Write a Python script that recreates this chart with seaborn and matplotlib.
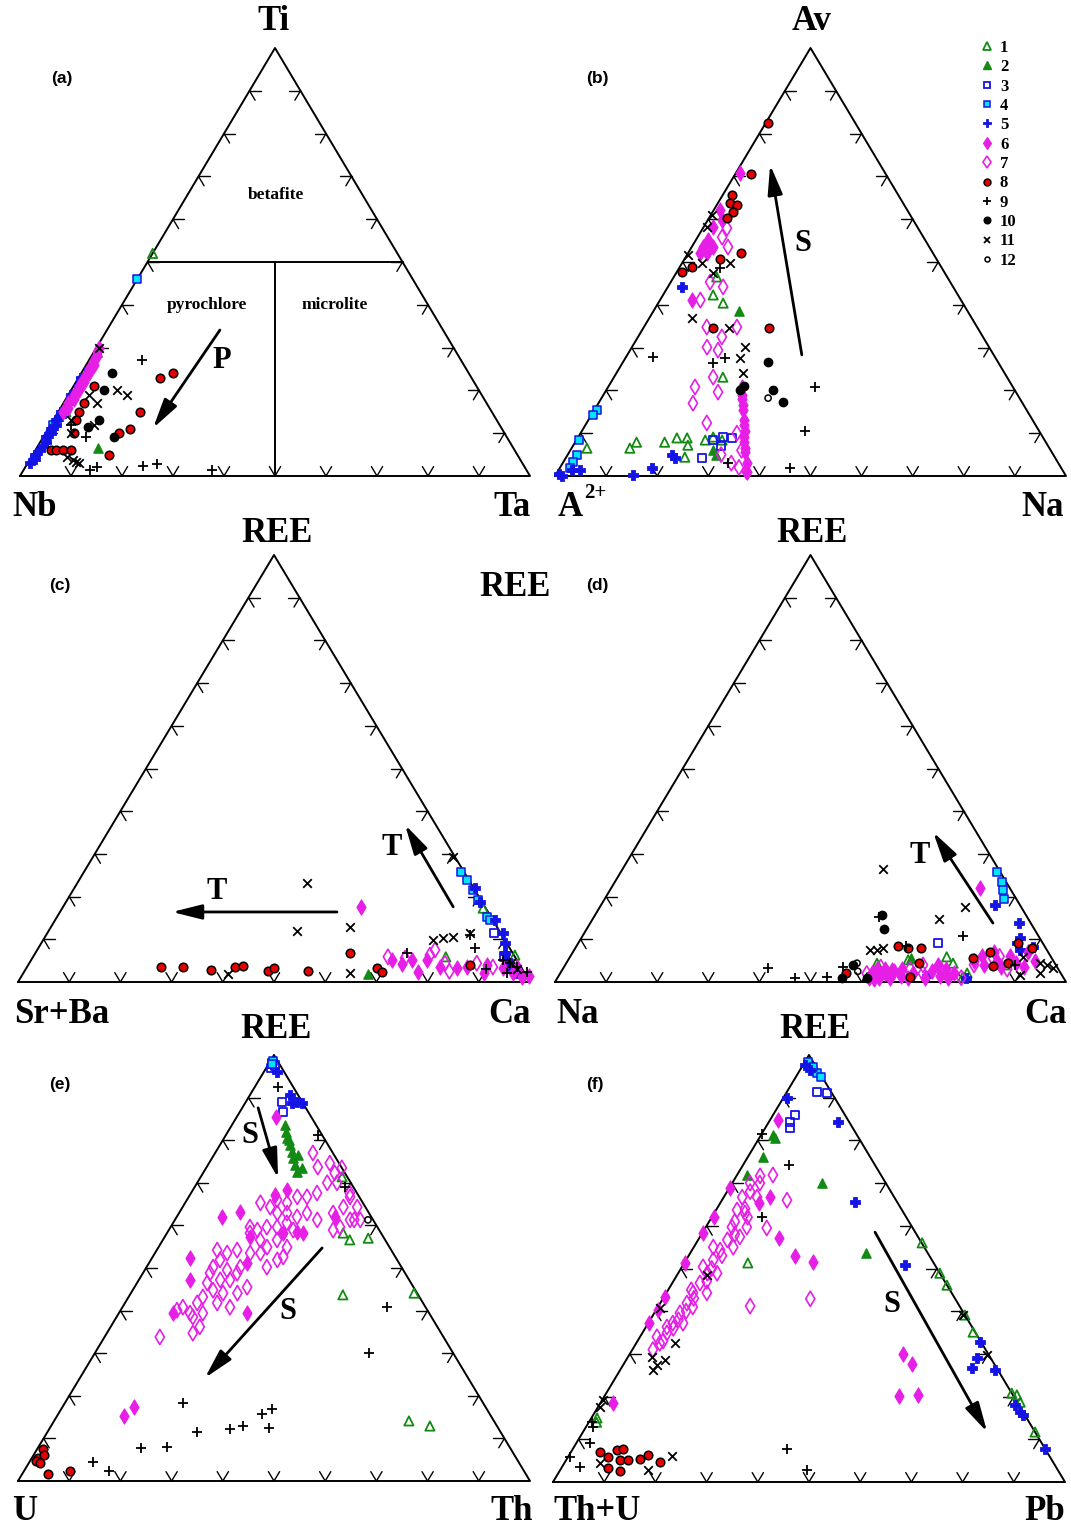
import numpy as np
import seaborn as sns
import matplotlib.pyplot as plt
from matplotlib.lines import Line2D

sns.set_style("white")
plt.rcParams['font.family'] = ['Liberation Serif', 'DejaVu Serif']
plt.rcParams['text.color'] = 'black'

# compositions: (top %, right %), left = 100 - top - right
a_data = {
    1: [(52, 0), (16, 1), (15, 1.5)],
    2: [(6.5, 12)],
    4: [(46, 0), (22, 1), (12, 0.5)],
    5: [(3, 0.5), (4, 1), (5, 0.5), (6, 1), (7, 1), (8, 1), (9, 0.5), (10, 1), (11, 0.5), (12, 1),
        (13, 0.5), (14, 1), (15, 0.5), (17, 1), (19, 0.5), (21, 1), (23, 0.5), (25, 1)],
    6: [(15, 1), (16, 1.5), (17, 1), (18, 1.5), (19, 1), (20, 1.5), (21, 1), (22, 1.5), (23, 1),
        (24, 1.5), (25, 1), (26, 1.5), (27, 1), (28, 1), (29, 0.5), (30, 0.5)],
    8: [(23, 16), (24, 18), (21, 4), (17, 4), (15, 16), (15, 4), (13, 4.5), (10, 5.5), (11, 16),
        (10, 14.5), (6, 3), (6, 4), (6, 5.5), (6, 7), (5, 15)],
    9: [(27, 10.5), (9, 8.5), (2.3, 23), (2.8, 25.5), (1.5, 13), (2, 14), (1.4, 37), (12, 4)],
    10: [(24, 6), (20, 6.5), (11.5, 7.5), (13, 9), (9, 14)],
    11: [(30, 0.5), (20, 9), (19, 11.5), (19, 4), (17, 6.5), (13, 3.5), (10, 5), (4.5, 7),
         (3.7, 8.5), (3.3, 9.3), (3, 10), (12, 8.5)],
}

b_data = {
    1: [(46.5, 8.4), (42.3, 9.8), (40.4, 12.7), (23.1, 21.3), (6.5, 3), (6.5, 11.4), (7.9, 12),
        (7.9, 17.5), (8.9, 19.4), (8.9, 21.4), (7.2, 22.4), (4.4, 23.2), (8.4, 25.2), (9.1, 26.4),
        (8.4, 28.5)],
    2: [(38.6, 16.7), (6, 28), (5, 29)],
    3: [(8.4, 26.7), (9.1, 28.3), (8.9, 30.2), (4.2, 26.7), (7, 29)],
    4: [(15.4, 0.5), (14.3, 0.3), (8.4, 0.5), (4.9, 1.8), (3.3, 1.9), (1.9, 2)],
    5: [(44.2, 2.8), (0, 1.4), (1.4, 2.6), (1.4, 4.2), (0.2, 15.2), (1.9, 18), (4.9, 20.5),
        (4.2, 21.4), (0.5, 0.5)],
    6: [(70.8, 0.8), (62.1, 1.2), (59.8, 2.8), (58.2, 1.8), (55.1, 2.4), (53.5, 2.3), (52.1, 2.3),
        (53.5, 4.1), (52.1, 3.7), (41.1, 6.3), (20.8, 26.2), (18, 27.5), (15.5, 29), (13, 30.5),
        (10.5, 32), (8, 33), (5.5, 34.5), (3, 36), (1, 37), (19, 27), (16.5, 28.5), (12, 31),
        (9, 32.5), (6.5, 34)],
    7: [(57.9, 4.7), (55.8, 4.8), (53.5, 7.1), (53.5, 3.6), (44.2, 10.8), (45.3, 7.7), (41.1, 7.9),
        (34.8, 12.3), (32.5, 16.4), (30.1, 14.7), (29.4, 17.2), (23.1, 19.4), (19.6, 22.1),
        (17, 18.5), (20.8, 17), (34.8, 18.2), (10, 30.6), (12.4, 23.5), (5, 30), (3, 33), (2, 35),
        (1, 37), (6, 33.5)],
    8: [(82.5, 0.4), (70.6, 3.1), (65.7, 1.8), (63.8, 2.3), (63.3, 4), (61.7, 4), (60.3, 3.6),
        (47.7, 1), (48.8, 2.4), (50.7, 7), (52.1, 10.3), (34.6, 13.6), (34.6, 24.6)],
    9: [(48.6, 8), (27.6, 19.5), (26.4, 17.7), (27.8, 5.3), (20.8, 40.5), (10.5, 43.7), (1.9, 45),
        (3, 32.4)],
    10: [(20, 26.2), (20, 32.7), (17.3, 36), (26.6, 28.4), (21, 26.5)],
    11: [(61, 0.2), (58.2, 0.6), (51.6, 0.2), (49.8, 3.9), (49.8, 9.3), (47.4, 7.2), (30.1, 22.2),
         (27.6, 22.4), (24.1, 24.8), (36.9, 8.4), (34.6, 16.8)],
    12: [(18.2, 32.6)],
}

c_data = {
    1: [(17.3, 82.2), (5.9, 80.6), (6.3, 93.9), (3, 96)],
    2: [(1.9, 67.4), (2, 97)],
    3: [(11.5, 87.2), (6, 92)],
    4: [(25.8, 73.6), (23.9, 75.7), (21.5, 78.1), (19.2, 80.2), (15.2, 84), (14.5, 85)],
    5: [(22, 78.3), (18.7, 80.9), (14.5, 86), (11.5, 89), (9.1, 90.6), (6.8, 91.7), (5.2, 92.9),
        (3, 95), (2, 96.5)],
    6: [(17.6, 58.2), (5.2, 70.4), (4.2, 72.9), (5.2, 74.4), (2.3, 77), (5.2, 77.3), (3.5, 80.7),
        (3.3, 84), (3.5, 86), (4, 89.6), (3.3, 93), (3.5, 95.7), (1.2, 97.8), (2.1, 95.6), (2, 90),
        (1.5, 99)],
    7: [(5.9, 69.3), (5.6, 72.8), (6.3, 77.3), (7.5, 77.7), (4.4, 81.2), (3.5, 91), (4.4, 87.4),
        (2.5, 83)],
    8: [(3.5, 26.2), (3.5, 30.5), (2.8, 36.3), (3.5, 40.7), (3.7, 42), (2.6, 47.5), (3.3, 48.3),
        (2.6, 55.3), (6.8, 61.4), (3.3, 68.5), (2.3, 70), (4, 86.3)],
    9: [(8, 85.3), (11, 82.8), (6.8, 72.6), (5.2, 92.1), (4.4, 93.9), (3.5, 95.7), (2.3, 98.2),
        (2.1, 94.4), (3, 90)],
    11: [(23.2, 44.8), (11.9, 48.6), (12.9, 58.4), (2.1, 63.8), (1.9, 40), (29.3, 70.3),
         (9.8, 76.2), (10.3, 77.9), (10.5, 79.7), (11.5, 82.6), (4.5, 94), (3, 96)],
}

d_data = {
    1: [(4.4, 60.8), (5.2, 66.5), (5.9, 73.7), (4.4, 75.7), (1.2, 79.2), (2.1, 79.6), (4, 86.1)],
    2: [(5.6, 66.9)],
    3: [(9.1, 70.4)],
    4: [(25.8, 73.6), (23.4, 75.8), (21.5, 76.9), (19.4, 78.2)],
    5: [(18, 77.1), (13.8, 83.9), (10.3, 85.9), (9.1, 85.9), (8.2, 89.4), (7.5, 87.3), (1, 80),
        (1.5, 72)],
    6: [(22, 72.2), (1, 61), (2, 61), (3, 61.5), (1, 63), (2, 63.5), (3, 63), (1, 65), (2.5, 65),
        (1.5, 67), (3, 66.5), (1, 68.5), (2, 69), (0.8, 62), (2.8, 64.5), (1, 72), (2.5, 72.5),
        (4, 73), (1.5, 74.5), (3, 75), (1, 76.5), (2, 77), (5, 79.5), (6, 80.5), (4, 82),
        (7, 82.5), (5, 84), (3.5, 85.5), (6, 86), (4.5, 88), (7, 89), (3.5, 90), (5, 91.5)],
    7: [(2, 60), (3.5, 62), (2, 64), (3, 68), (4, 70), (2, 71), (3, 74), (1, 79), (4, 80),
        (5.5, 83), (3, 87), (6, 84)],
    8: [(5.6, 79), (7, 81.6), (9.1, 86.1), (3.7, 83.9), (4.4, 86.4), (8, 89.3), (4.4, 69),
        (1.2, 68.9), (2.1, 55.8), (8.4, 62.9), (8, 67.6), (8, 65.1)],
    9: [(10.8, 74.4), (15.2, 55.8), (3.3, 40), (0.9, 46.5), (1.2, 52.6), (3.5, 54.6), (8.4, 64.5),
        (4, 88)],
    10: [(15.7, 56.1), (12.4, 58.2), (4, 56.3), (0.9, 55.7), (0.9, 60.6)],
    11: [(26.5, 51), (17.6, 71.4), (14.8, 67.7), (7.5, 57.9), (7.5, 59.3), (8, 60.2), (5.9, 88.6),
         (4.4, 92.7), (4, 94.3), (3.3, 95.8), (2.1, 93.9), (1.6, 90.2)],
    12: [(4.4, 56.9), (2.5, 58)],
}

e_data = {
    1: [(71.4, 27.6), (58.2, 34.4), (56.6, 36.5), (57, 39.9), (43.7, 41.6), (44.1, 55.3),
        (14.1, 69.3), (12.9, 74)],
    2: [(83.6, 10.3), (81.9, 11.4), (80.5, 12.3), (78.9, 13.7), (77.2, 14.9), (75.8, 15.8),
        (74.2, 17), (72.5, 18.3), (80, 13), (76.5, 16.5), (73.5, 18.8)],
    3: [(98, 0.6), (97, 1), (89, 7.1), (86.6, 8.5), (97.5, 1.5)],
    4: [(98.5, 0.5), (97.8, 0.8)],
    5: [(96, 2.6), (90.6, 7.8), (89, 10), (88.7, 11.1), (88.7, 9.2)],
    6: [(85.4, 7.7), (68.3, 18.4), (67.1, 16.7), (63.1, 11.8), (62, 8.8), (58.5, 25.2),
        (58.2, 26.6), (62, 30.9), (52.3, 7.5), (47.2, 10), (39.4, 25), (57.3, 16.6), (58.2, 22.7),
        (39.4, 10.6), (51.2, 19.1), (15.3, 13), (17.4, 14)],
    7: [(77, 19.1), (73.7, 21.7), (74.6, 23.6), (72.3, 25.7), (70, 27.3), (70, 25.4), (67.6, 24.6),
        (66.7, 23.1), (66.7, 21.2), (65.3, 19.9), (66, 17.6), (64.3, 17.1), (65.3, 14.7),
        (62.9, 19.2), (62.9, 21.1), (62, 23.5), (62.9, 25), (61.3, 27.8), (62.9, 30.1), (64.3, 31.4),
        (66.7, 31.5), (64.3, 34.1), (61.3, 36.2), (61.3, 34.2), (59.6, 33.1), (58.9, 32.1),
        (60.6, 22.2), (58.9, 24.3), (59.6, 20.8), (59.6, 18.8), (59.6, 15.5), (58.9, 17.3),
        (58.2, 16.2), (56.6, 19), (56.6, 22.3), (54.9, 25.1), (54.9, 21.2), (53.5, 20.6),
        (53.5, 18.6), (54.2, 15.7), (53.5, 14.1), (54.2, 11.8), (51.9, 13.5), (50.2, 13),
        (49.5, 16.1), (50.2, 18.3), (48.8, 18.4), (47.2, 17.8), (47.2, 15.9), (48.8, 13.1),
        (46.5, 13.7), (44.8, 15.7), (44.1, 18), (44.1, 20.8), (45.5, 22), (50.2, 23.5),
        (51.9, 24.7), (52.6, 25.5), (43.2, 14.5), (41.8, 14.1), (39.4, 16.4), (41.8, 18),
        (40.8, 21), (38.5, 14.9), (36.2, 17.4), (34.7, 16.8), (40.8, 11.8), (40.1, 11),
        (39.4, 13.9), (33.8, 10.8), (73.5, 26.5), (67.6, 31), (61.3, 35)],
    8: [(7.5, 1.2), (5.4, 1.2), (4.7, 1.2), (6.1, 2), (4.2, 2.2), (1.6, 5.1), (2.3, 9)],
    9: [(92.5, 4.6), (40.8, 51.7), (30, 53.6), (18.3, 23.1), (11.5, 29.2), (8, 25.1), (7.7, 20.2),
        (4.5, 12.4), (2.3, 16.7), (12.2, 35.3), (12.9, 37.5), (15.7, 39.8), (16.9, 41.2),
        (12.4, 42.8), (81.2, 18), (69, 29.4)],
    12: [(61.3, 37.7)],
}

f_data = {
    1: [(15, 1.1), (56, 44.1), (48.9, 51.1), (46.1, 53.9), (39.1, 60.9), (35.1, 64.5), (20.8, 79.2),
        (20.4, 80.4), (18.7, 81.9), (11.7, 88.3), (51.3, 12.4), (14, 1.5)],
    2: [(81.3, 2.3), (80.6, 3.1), (76.1, 3), (71.9, 1.9), (70, 17.5), (53.6, 34.3)],
    3: [(91.3, 5.9), (91.1, 8), (85.9, 4.3), (84.3, 4.1), (82.9, 4.9)],
    4: [(98.4, 0.6), (95.8, 3.7), (97.2, 2.2), (94.8, 4.9)],
    5: [(97.7, 0.4), (96.5, 2), (89.9, 0.8), (84.3, 13.5), (65.6, 26.2), (50.8, 43.4), (32.8, 67),
        (29, 68.3), (26.7, 68.5), (26.2, 73.2), (18, 81.2), (16.4, 83), (15.7, 84), (7.7, 92.3)],
    6: [(84.8, 1.5), (66.7, 9.1), (65.3, 7.6), (57.1, 15.6), (52.9, 20.8), (51.5, 25), (68.9, 0.1),
        (62.1, 0.3), (58.3, 0.1), (51.3, 0.1), (43.3, 0.3), (40.3, 0.4), (37.2, 0.2), (18.5, 2.5),
        (30, 53.4), (27.6, 56.3), (20.1, 57.5), (20.4, 61.1)],
    7: [(70, 3.5), (66.7, 3.6), (63.7, 4.1), (63, 6), (59.7, 5.1), (57.4, 7.8), (56.7, 5.7),
        (54.3, 5.5), (55, 7.7), (52, 5.3), (48.9, 5.7), (46.6, 5.4), (44.3, 5.2), (41.9, 5.2),
        (39.6, 5), (37.2, 4.8), (34.9, 4.8), (55, 3.8), (50.4, 4.1), (48.9, 7.6), (44.3, 7.9),
        (41, 6.8), (37.2, 6.8), (59.7, 8), (66.7, 6.5), (70, 5.4), (32.5, 4.6), (34, 3.3),
        (36.3, 4.1), (61, 5), (58, 6.5), (53, 6.5), (50, 6), (47, 6.5), (45, 4.5), (43, 6),
        (40, 6), (38, 5.5), (36, 5.5), (33, 5), (31, 4), (64, 5.5), (68, 4.5), (62, 7),
        (71.9, 7), (66, 12.7), (71.7, 4.6), (59.5, 12), (41.2, 17.9), (42.9, 28.8)],
    8: [(7, 5.7), (5.9, 7.8), (7.5, 8.8), (7.7, 9.8), (5.2, 10.5), (5.2, 12), (3.3, 9.1),
        (2.6, 11.8), (5.4, 14.3), (6.3, 15.4), (4.7, 18.6)],
    9: [(81.5, 0), (74.2, 9), (62.1, 9.8), (14.1, 0.6), (12.9, 1.4), (9.1, 2.7), (3.5, 3.6),
        (5.9, 0.4), (7.7, 41.9), (2.8, 48.2)],
    11: [(48.5, 5.8), (32.6, 7.5), (40.7, 0.6), (29.3, 4.7), (27.4, 6.6), (28.6, 7.6), (26.2, 6.4),
         (19.2, 0.2), (17.6, 0.4), (4.4, 7), (2.8, 17.2), (6.1, 20.2), (39.1, 60.5), (29.7, 70)],
}

GREEN, BLUE, CYAN, MAG, RED = '#138a13', '#1414e6', '#00e5ff', '#e61ee6', '#e60000'
# group: marker, face, edge, size, linewidth
styles = {
    1: ('^', 'none', GREEN, 44, 1.3),
    2: ('^', GREEN, GREEN, 44, 1.0),
    3: ('s', 'none', BLUE, 36, 1.3),
    4: ('s', CYAN, BLUE, 36, 1.1),
    5: ('P', BLUE, BLUE, 50, 0.6),
    6: ('d', MAG, MAG, 60, 0.8),
    7: ('d', 'none', MAG, 60, 1.2),
    8: ('o', RED, 'black', 38, 1.1),
    9: ('+', 'black', 'black', 50, 1.3),
    10: ('o', 'black', 'black', 36, 1.0),
    11: ('x', 'black', 'black', 38, 1.3),
    12: ('o', 'none', 'black', 20, 1.1),
}

W, H = 1071, 1529
# triangle corners in pixels: left, right, base y, apex y
panels = [
    ('a', a_data, 20, 530, 476, 48),
    ('b', b_data, 555, 1066, 476, 48),
    ('c', c_data, 18, 530, 982, 555),
    ('d', d_data, 555, 1066, 982, 555),
    ('e', e_data, 18, 530, 1481, 1055),
    ('f', f_data, 553, 1065, 1482, 1055),
]


def tern(pts):
    t = np.array([p[0] for p in pts]) / 100.0
    r = np.array([p[1] for p in pts]) / 100.0
    return r + t / 2, t


fig = plt.figure(figsize=(W / 100, H / 100), dpi=100)
axes = {}
m = 60
for name, data, L, R, B, T in panels:
    ax = fig.add_axes([(L - m) / W, (H - B - m) / H, (R - L + 2 * m) / W, (B - T + 2 * m) / H])
    ax.set_xlim(-m / (R - L), 1 + m / (R - L))
    ax.set_ylim(-m / (B - T), 1 + m / (B - T))
    ax.axis('off')
    ax.patch.set_alpha(0)
    axes[name] = ax

    ax.plot([0, 1, 0.5, 0], [0, 0, 1, 0], color='black', lw=1.4, clip_on=False)
    tl = 0.022
    for k in np.arange(1, 10) / 10:
        for (px, py), dirs in [((k, 0), [(0.5, 1), (-0.5, 1)]),
                               ((k / 2, k), [(1, 0), (0.5, -1)]),
                               ((1 - k / 2, k), [(-1, 0), (-0.5, -1)])]:
            for dx, dy in dirs:
                ax.plot([px, px + tl * dx], [py, py + tl * dy], color='black', lw=1.0)

    for g in range(1, 13):
        if g not in data:
            continue
        mk, face, edge, s, lw = styles[g]
        x, y = tern(data[g])
        sns.scatterplot(x=x, y=y, ax=ax, marker=mk, s=s, color=edge, linewidth=lw, legend=False, zorder=3)
        coll = ax.collections[-1]
        coll.set_facecolor(face)
        coll.set_edgecolor(edge)
        coll.set_clip_on(False)

    fig.text((L + 42) / W, 1 - (T + 30) / H, '(%s)' % name, family='Liberation Sans',
             fontweight='bold', fontsize=12.5, ha='center', va='center')


def arrow(ax, tail, head, label, lpos):
    ax.annotate('', xy=head, xytext=tail,
                arrowprops=dict(arrowstyle='-|>,head_length=1.0,head_width=0.25', lw=2,
                                color='black', shrinkA=0, shrinkB=0, mutation_scale=18))
    ax.text(lpos[0], lpos[1], label, fontsize=22, fontweight='bold', ha='center', va='center')


# panel (a) fields
ax = axes['a']
ax.plot([0.25, 0.75], [0.5, 0.5], color='black', lw=1.4)
ax.plot([0.5, 0.5], [0.5, 0], color='black', lw=1.4)
ax.text(0.502, 0.657, 'betafite', fontsize=12.5, fontweight='bold', ha='center', va='center')
ax.text(0.367, 0.40, 'pyrochlore', fontsize=12.5, fontweight='bold', ha='center', va='center')
ax.text(0.618, 0.40, 'microlite', fontsize=12.5, fontweight='bold', ha='center', va='center')
arrow(ax, (0.392, 0.341), (0.261, 0.112), 'P', (0.396, 0.27))
arrow(axes['b'], (0.483, 0.283), (0.421, 0.727), 'S', (0.485, 0.544))
arrow(axes['c'], (0.85, 0.176), (0.756, 0.368), 'T', (0.73, 0.316))
arrow(axes['c'], (0.623, 0.164), (0.301, 0.164), 'T', (0.389, 0.211))
arrow(axes['d'], (0.857, 0.138), (0.74, 0.351), 'T', (0.714, 0.297))
arrow(axes['e'], (0.469, 0.876), (0.508, 0.711), 'S', (0.453, 0.812))
arrow(axes['e'], (0.594, 0.547), (0.365, 0.242), 'S', (0.527, 0.397))
arrow(axes['f'], (0.629, 0.585), (0.848, 0.117), 'S', (0.662, 0.415))

# corner labels
corner_labels = [
    ('Ti', 274, 22), ('Nb', 35, 508), ('Ta', 512, 508),
    ('Av', 812, 22), ('A', 570, 508), ('Na', 1043, 508),
    ('REE', 277, 533), ('Sr+Ba', 62, 1015), ('Ca', 510, 1015), ('REE', 515, 588),
    ('REE', 812, 533), ('Na', 578, 1015), ('Ca', 1045, 1015),
    ('REE', 276, 1030), ('U', 25, 1512), ('Th', 512, 1512),
    ('REE', 815, 1030), ('Th+U', 597, 1512), ('Pb', 1045, 1512),
]
for txt, px, py in corner_labels:
    fig.text(px / W, 1 - py / H, txt, fontsize=25, fontweight='bold', ha='center', va='center')
fig.text(595 / W, 1 - 493 / H, '2+', fontsize=15, fontweight='bold', ha='center', va='center')

# legend
handles = []
for g in range(1, 13):
    mk, face, edge, s, lw = styles[g]
    handles.append(Line2D([], [], ls='none', marker=mk, markersize=np.sqrt(s) * 0.8,
                          markerfacecolor=face, markeredgecolor=edge, markeredgewidth=lw,
                          label=str(g)))
fig.legend(handles=handles, loc='upper left', bbox_to_anchor=(980 / W, 1 - 40 / H),
           frameon=False, handlelength=0.8, handletextpad=0.4, labelspacing=0.2,
           borderpad=0, borderaxespad=0, prop={'family': 'Liberation Serif', 'weight': 'bold', 'size': 12})

fig.savefig('out.png', dpi=100)
